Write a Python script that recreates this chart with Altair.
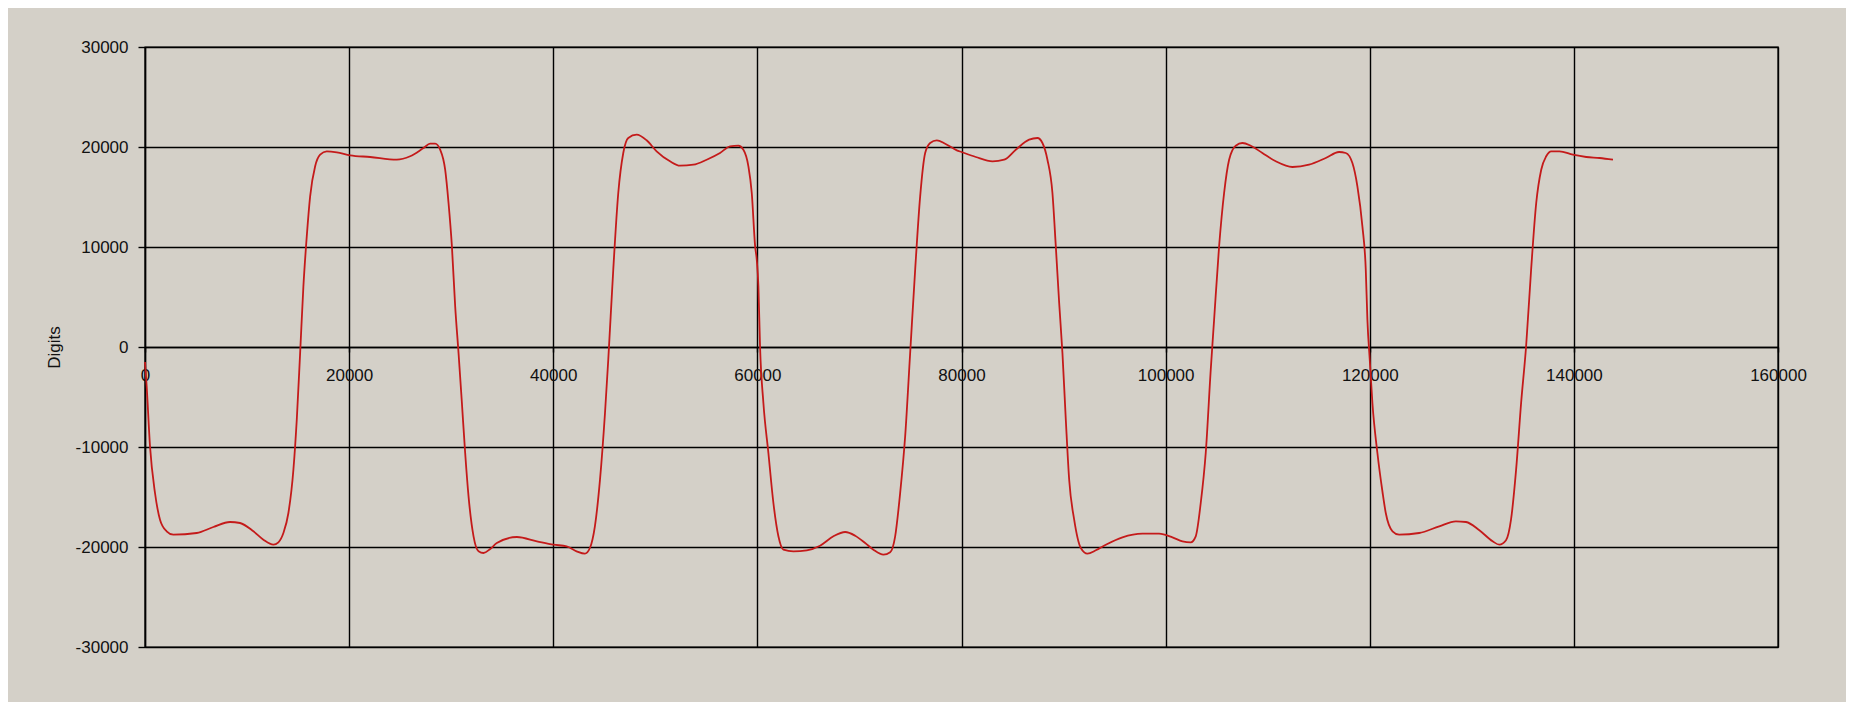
import altair as alt
import pandas as pd

# Time (x) and Digits (y) values
time_vals = [
    0, 163, 490, 980, 1470, 2120, 2780, 5070, 6700, 8330, 9310, 10620, 11600, 12580,
    13070, 13560, 14050, 14540, 14870, 15200, 15520, 15850, 16180, 16670, 17160, 17810,
    18790, 20100, 22060, 24670, 25980, 27290, 27940, 28430, 28920, 29410, 29740, 30070,
    30390, 30720, 31050, 31370, 31700, 32190, 32680, 33170, 33820, 34470, 36440, 38400,
    40030, 41310, 42290, 43100, 43590, 44080, 44580, 45070, 45390, 45880, 46370, 46860,
    47350, 48170, 49150, 50130, 51440, 52420, 53730, 55030, 56340, 57320, 58140, 58630,
    59120, 59450, 59780, 59940, 60100, 60260, 60590, 61080, 61570, 62060, 62550, 63530,
    64840, 66140, 67450, 68600, 69580, 70560, 71370, 72350, 73010, 73500, 73990, 74480,
    74970, 75460, 75950, 76440, 76930, 77580, 78400, 79540, 80000, 81400, 83040, 84180,
    85320, 86630, 87440, 87930, 88420, 88910, 89240, 89570, 89890, 90220, 90550, 91040,
    91690, 92340, 93160, 94140, 95770, 97730, 99360, 100670, 101650, 102460, 102950,
    103440, 103930, 104420, 104750, 105240, 105730, 106220, 106870, 107520, 108340,
    109480, 110790, 112420, 114050, 115690, 116990, 117650, 118300, 118790, 119280,
    119610, 119770, 120000, 120260, 120750, 121250, 121570, 122230, 122880, 124840,
    126810, 128440, 129430, 130740, 132040, 132700, 133350, 133840, 134340, 134830,
    135320, 135810, 136310, 136800, 137290, 137780, 138590, 139900, 141210, 142520, 143830,
]
digits_vals = [
    -1500, -3930, -9930, -14600, -17270, -18430, -18770, -18600, -18000, -17500, -17600,
    -18430, -19270, -19770, -19530, -18600, -16600, -12270, -7270, -600, 6070, 11070,
    15070, 18070, 19230, 19570, 19470, 19170, 19000, 18730, 19070, 19900, 20330, 20330,
    19730, 17730, 14400, 10070, 4070, -600, -5600, -10600, -14930, -18930, -20430, -20600,
    -20200, -19600, -19000, -19430, -19770, -19930, -20430, -20670, -20100, -17930, -13270,
    -6600, -1270, 7730, 15400, 19400, 20900, 21230, 20670, 19570, 18570, 18130, 18230,
    18730, 19400, 20070, 20130, 19730, 18070, 15400, 10070, 8730, 6070, 70, -5600, -10600,
    -15600, -18930, -20270, -20430, -20330, -19870, -18930, -18500, -18870, -19600, -20270,
    -20770, -20530, -18930, -14600, -8930, -600, 7730, 15070, 19400, 20400, 20670, 20330,
    19670, 19500, 19000, 18570, 18730, 19730, 20730, 20900, 20400, 18730, 15400, 10070,
    4400, -600, -7270, -13270, -17270, -20100, -20670, -20330, -19770, -19030, -18670,
    -18670, -19030, -19430, -19530, -18930, -15600, -10600, -2270, 2730, 10070, 15400,
    18730, 20130, 20400, 20130, 19400, 18570, 18000, 18230, 18900, 19500, 19400, 18400,
    16070, 12070, 7730, 2730, -1270, -5600, -10600, -14500, -16600, -18430, -18770, -18600,
    -17930, -17430, -17500, -18330, -19430, -19770, -19330, -17270, -12270, -5600, 70,
    7730, 14400, 17730, 19070, 19570, 19570, 19230, 19000, 18900, 18730,
]

x_ticks = [0, 20000, 40000, 60000, 80000, 100000, 120000, 140000, 160000]
y_ticks = [-30000, -20000, -10000, 0, 10000, 20000, 30000]

df = pd.DataFrame({"Time": time_vals, "Digits": digits_vals})

FONT = "Liberation Sans"
FS = 17
PLOT_W, PLOT_H = 1633, 600

chart = (
    alt.Chart(df)
    .mark_line(color="#c41a1a", strokeWidth=1.8, interpolate="monotone")
    .encode(
        x=alt.X(
            "Time:Q",
            scale=alt.Scale(domain=[0, 160000], nice=False, zero=False),
            axis=alt.Axis(
                values=x_ticks, labelExpr="'' + datum.value", orient="bottom",
                offset=-PLOT_H / 2,
                grid=True, gridColor="#000000", gridWidth=1.4, gridOpacity=1,
                domain=True, domainColor="#000000", domainWidth=1.4,
                ticks=True, tickSize=5, tickColor="#000000", tickWidth=1.4,
                labelFont=FONT, labelFontSize=FS, labelColor="#111111",
                labelPadding=15, labelFlush=False, labelOverlap=False, title=None,
            ),
        ),
        y=alt.Y(
            "Digits:Q",
            scale=alt.Scale(domain=[-30000, 30000], nice=False),
            axis=alt.Axis(
                values=y_ticks, labelExpr="'' + datum.value", grid=True,
                gridColor="#000000", gridWidth=1.4, gridOpacity=1,
                labelFont=FONT, labelFontSize=FS, labelColor="#111111",
                labelPadding=10, labelFlush=False, labelOverlap=False,
                tickSize=7, tickColor="#000000", tickWidth=1.4,
                domainColor="#000000", domainWidth=1.4,
                title="Digits", titleFont=FONT, titleFontSize=FS, titleFontWeight="normal",
                titleColor="#111111", titleAngle=270, titleX=-86, titleY=PLOT_H / 2,
                titleAlign="center", titleBaseline="alphabetic",
            ),
        ),
    )
    .properties(
        width=PLOT_W,
        height=PLOT_H,
        autosize=alt.AutoSizeParams(type="none"),
        padding={"left": 137, "top": 39, "right": 68, "bottom": 55},
        background="#d4d0c8",
    )
    .configure_view(stroke="#000000", strokeWidth=1.4)
)

chart.save("out.html", embed_options={"renderer": "svg", "actions": False})
